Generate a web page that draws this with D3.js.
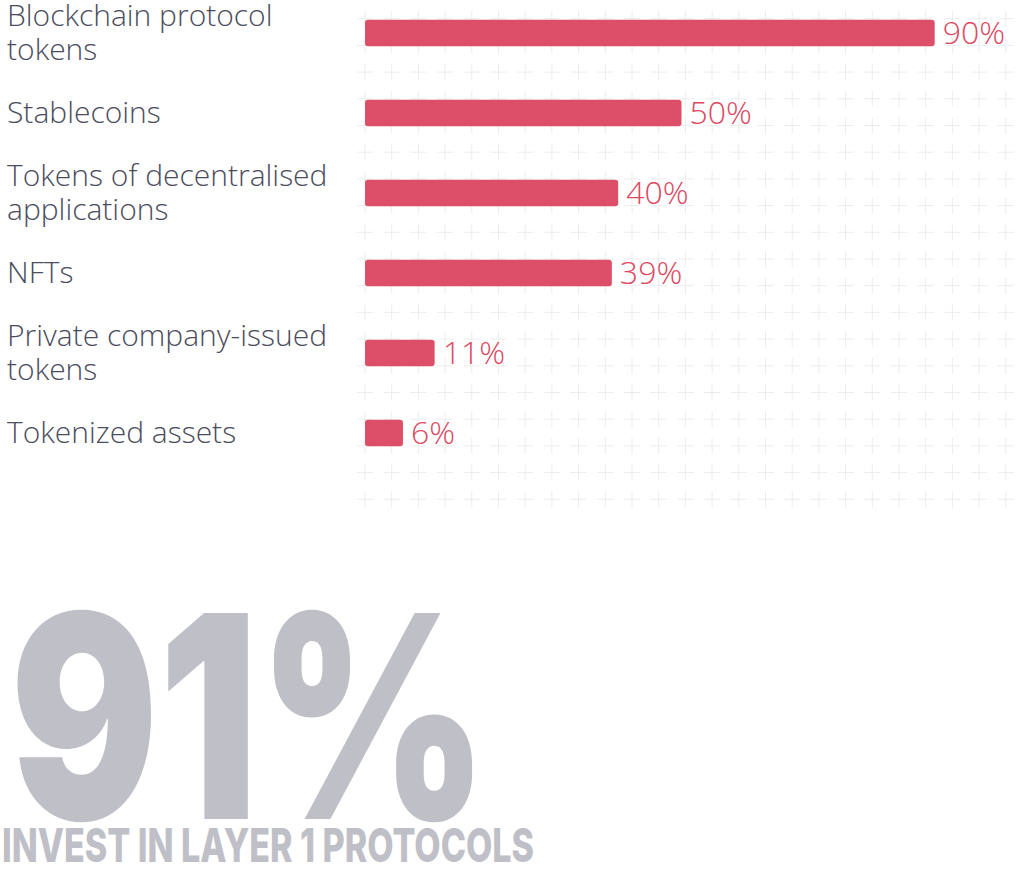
<!DOCTYPE html>
<html>
<head>
<meta charset="utf-8">
<script src="https://cdn.jsdelivr.net/npm/d3@7"></script>
<style>
	html, body { margin: 0; padding: 0; background: #ffffff; }
	svg { display: block; }
</style>
</head>
<body>
<svg></svg>
<script>
// categories and their shares (percent of respondents)
const categories = [
	["Blockchain protocol", "tokens"],
	["Stablecoins"],
	["Tokens of decentralised", "applications"],
	["NFTs"],
	["Private company-issued", "tokens"],
	["Tokenized assets"]
]
const values = [90, 50, 40, 39, 11, 6]

const headline = "91%"
const subline = "INVEST IN LAYER 1 PROTOCOLS"

const red = "#dc4862"
const labelGrey = "#4b4c5c"
const bigGrey = "#bfc0c7"

const svg = d3.select("svg")
	.attr("width", 1024)
	.attr("height", 872)

// scales
const x = d3.scaleLinear()
	.domain([0, 100])
	.range([365, 998])

const y = d3.scaleBand()
	.domain(d3.range(values.length))
	.range([-7, 473])
	.paddingInner(0.67)
	.paddingOuter(0.335)

// background lattice of little crosses
const gridCols = d3.range(25).map(i => 365 + i * 26.7)
const gridRows = d3.range(19).map(i => 18.7 + i * 26.7)
const grid = svg.append("g")
	.attr("stroke", "#ececec")
	.attr("stroke-width", 1)

gridRows.forEach(gy => {
	grid.selectAll(null)
		.data(gridCols)
		.enter()
		.append("path")
		.attr("d", gx => `M${gx - 8},${gy}H${gx + 8}M${gx},${gy - 8}V${gy + 8}`)
})

// bars
const rows = svg.append("g")
	.selectAll("g")
	.data(values)
	.enter()
	.append("g")

rows.append("rect")
	.attr("x", x(0))
	.attr("y", (d, i) => y(i))
	.attr("width", d => x(d) - x(0))
	.attr("height", y.bandwidth())
	.attr("rx", 3)
	.attr("fill", red)
	.attr("fill-opacity", 0.96)

// value labels
rows.append("text")
	.attr("x", d => x(d) + 8)
	.attr("y", (d, i) => y(i) + y.bandwidth() / 2 + 11)
	.attr("fill", red)
	.style("font-family", "'Open Sans', sans-serif")
	.style("font-weight", 300)
	.style("font-size", "32px")
	.text(d => d + "%")

// category labels, one or two lines centred on the bar
rows.append("text")
	.attr("x", 7)
	.attr("fill", labelGrey)
	.style("font-family", "'Open Sans', sans-serif")
	.style("font-weight", 300)
	.style("font-size", "30px")
	.each(function (d, i) {
		const lines = categories[i]
		const base = y(i) + y.bandwidth() / 2 + 10 - 16.7 * (lines.length - 1)
		d3.select(this)
			.selectAll("tspan")
			.data(lines)
			.enter()
			.append("tspan")
			.attr("x", 7)
			.attr("y", (l, j) => base + j * 33.4)
			.text(l => l)
	})

// the big headline number
svg.append("text")
	.attr("x", 10)
	.attr("y", 819)
	.attr("textLength", 478)
	.attr("lengthAdjust", "spacingAndGlyphs")
	.attr("fill", bigGrey)
	.style("font-family", "Inter, Roboto, sans-serif")
	.style("font-weight", 900)
	.style("font-size", "283px")
	.text(headline)

svg.append("text")
	.attr("x", 2)
	.attr("y", 862)
	.attr("textLength", 532)
	.attr("lengthAdjust", "spacingAndGlyphs")
	.attr("fill", bigGrey)
	.style("font-family", "Inter, Roboto, sans-serif")
	.style("font-weight", 800)
	.style("font-size", "47px")
	.text(subline)
</script>
</body>
</html>
